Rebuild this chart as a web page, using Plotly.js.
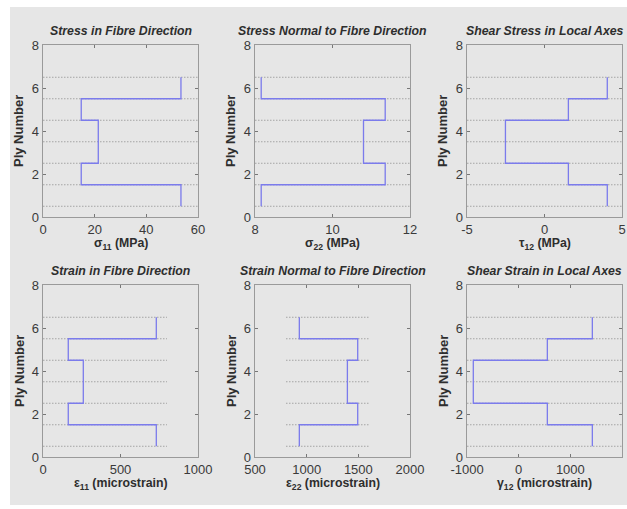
<!DOCTYPE html>
<html>
<head>
<meta charset="utf-8">
<script src="https://cdn.plot.ly/plotly-3.0.1.min.js"></script>
<style>html,body{margin:0;padding:0;background:#fff;}#chart{width:627px;height:509px;}</style>
</head>
<body>
<div id="chart"></div>
<script>
// Ply numbers (1..6)
const plies = [1, 2, 3, 4, 5, 6];

// Values per ply for each panel
const sigma11 = [53.4, 14.8, 21.4, 21.4, 14.8, 53.4];      // MPa
const sigma22 = [8.16, 11.36, 10.8, 10.8, 11.36, 8.16];     // MPa
const tau12   = [4.05, 1.54, -2.52, -2.52, 1.54, 4.05];     // MPa
const eps11   = [731, 163, 260, 260, 163, 731];             // microstrain
const eps22   = [929, 1494, 1394, 1394, 1494, 929];         // microstrain
const gamma12 = [1426, 555, -878, -878, 555, 1426];         // microstrain

const panelTitles = ["Stress in Fibre Direction", "Stress Normal to Fibre Direction", "Shear Stress in Local Axes",
                     "Strain in Fibre Direction", "Strain Normal to Fibre Direction", "Shear Strain in Local Axes"];
const xLabels = ["σ<sub>11</sub> (MPa)", "σ<sub>22</sub> (MPa)", "τ<sub>12</sub> (MPa)",
                 "ε<sub>11</sub> (microstrain)", "ε<sub>22</sub> (microstrain)", "γ<sub>12</sub> (microstrain)"];
const xRanges = [[0, 60], [8, 12], [-5, 5], [0, 1000], [500, 2000], [-1000, 2000]];
const xTicks = [[0, 20, 40, 60], [8, 10, 12], [-5, 0, 5], [0, 500, 1000], [500, 1000, 1500, 2000], [-1000, 0, 1000, 2000]];
const interfaceX = [[0, 60], [8, 12], [-5, 5], [0, 800], [800, 1600], [-1000, 2000]];
const yRange = [0, 8];
const yTicks = [0, 2, 4, 6, 8];

const series = [sigma11, sigma22, tau12, eps11, eps22, gamma12];

// Layout geometry (pixels)
const W = 627, H = 509;
const colLeft = [43, 255, 467], plotW = 155;
const rowTop = [45, 285], plotH = 172;

const traces = [];
const layout = {
  width: W, height: H,
  margin: {l: 0, r: 0, t: 0, b: 0},
  paper_bgcolor: '#ffffff',
  plot_bgcolor: 'rgba(0,0,0,0)',
  showlegend: false,
  font: {family: 'Liberation Sans, Arial, sans-serif', color: '#3a3a3a', size: 13},
  annotations: [],
  shapes: [{
    type: 'rect', xref: 'paper', yref: 'paper', layer: 'below',
    x0: 10 / W, x1: 1, y0: 4 / H, y1: 1 - 7 / H,
    fillcolor: '#e6e6e6', line: {width: 0}
  }]
};

const boundaries = [plies[0] - 0.5].concat(plies.map(p => p + 0.5));

for (let i = 0; i < 6; i++) {
  const r = Math.floor(i / 3), c = i % 3;
  const ax = i === 0 ? '' : String(i + 1);
  const xa = 'x' + ax, ya = 'y' + ax;
  const x0 = colLeft[c] / W, x1 = (colLeft[c] + plotW) / W;
  const y1 = 1 - rowTop[r] / H, y0 = 1 - (rowTop[r] + plotH) / H;

  // interface dotted lines
  boundaries.forEach(b => {
    traces.push({
      x: interfaceX[i], y: [b, b], xaxis: xa, yaxis: ya, mode: 'lines',
      line: {color: '#a4a4a4', width: 1, dash: '1.5px,1.5px'}, hoverinfo: 'skip'
    });
  });
  // stair profile
  const vals = series[i];
  traces.push({
    x: vals.concat([vals[vals.length - 1]]), y: boundaries, xaxis: xa, yaxis: ya,
    mode: 'lines', line: {color: '#7b7bec', width: 1.3, shape: 'vh'}
  });

  const axCommon = {
    showgrid: false, zeroline: false, showline: true, mirror: 'ticks',
    linecolor: '#9a9a9a', linewidth: 1.3, ticks: 'inside', ticklen: 3,
    tickcolor: '#777', tickwidth: 1,
    tickfont: {size: 13, color: '#3a3a3a'}
  };
  layout['xaxis' + ax] = Object.assign({}, axCommon, {
    domain: [x0, x1], anchor: ya, range: xRanges[i], tickvals: xTicks[i], ticktext: xTicks[i].map(String)
  });
  layout['yaxis' + ax] = Object.assign({}, axCommon, {
    domain: [y0, y1], anchor: xa, range: yRange, tickvals: yTicks
  });

  const cx = (colLeft[c] + plotW / 2) / W;
  layout.annotations.push({
    text: '<b><i>' + panelTitles[i] + '</i></b>', xref: 'paper', yref: 'paper',
    x: cx, y: 1 - (rowTop[r] - 14) / H, xanchor: 'center', yanchor: 'middle', showarrow: false,
    font: {size: 12.3, color: '#2e2e2e'}
  });
  layout.annotations.push({
    text: '<b>' + xLabels[i] + '</b>', xref: 'paper', yref: 'paper',
    x: cx, y: 1 - (rowTop[r] + plotH + 27) / H, xanchor: 'center', yanchor: 'middle', showarrow: false,
    font: {size: 12.3, color: '#2e2e2e'}
  });
  layout.annotations.push({
    text: '<b>Ply Number</b>', xref: 'paper', yref: 'paper', textangle: -90,
    x: (colLeft[c] - 24) / W, y: 1 - (rowTop[r] + plotH / 2) / H, xanchor: 'center', yanchor: 'middle', showarrow: false,
    font: {size: 13, color: '#2e2e2e'}
  });
}

Plotly.newPlot('chart', traces, layout, {staticPlot: true, displayModeBar: false});
</script>
</body>
</html>
